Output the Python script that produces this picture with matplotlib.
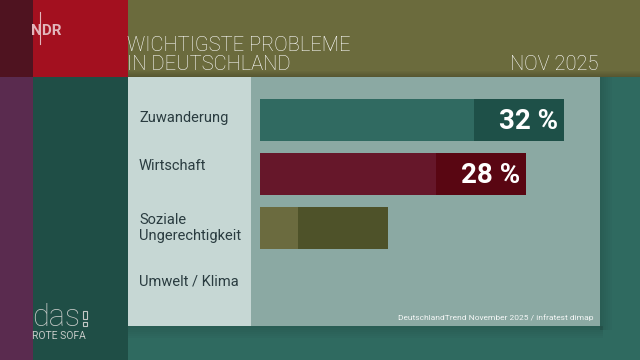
"""
NDR "Das Rote Sofa" graphic: most important problems in Germany (Nov 2025).
"""
import matplotlib
matplotlib.use("Agg")
import matplotlib.pyplot as plt
from matplotlib.patches import Rectangle
from matplotlib.transforms import blended_transform_factory

plt.rcParams["font.family"] = ["Roboto", "DejaVu Sans"]

TITLE = "WICHTIGSTE PROBLEME\nIN DEUTSCHLAND"
DATE = "NOV 2025"
SOURCE = "DeutschlandTrend November 2025 / infratest dimap"

categories = ["Zuwanderung", "Wirtschaft", "Soziale\nUngerechtigkeit", "Umwelt / Klima"]
values = [32, 28, 13.5, 0]
value_labels = ["32 %", "28 %", "", ""]

bar_colors = ["#306a61", "#66172a", "#6b6b3f", "#6b6b3f"]
tag_colors = ["#1e5048", "#590612", "#4e5229", "#4e5229"]

W, H = 640, 360

fig = plt.figure(figsize=(6.4, 3.6), dpi=100)

# --------------------------------------------------------------------------- #
# Background blocks (pixel coordinates)
# --------------------------------------------------------------------------- #
bg = fig.add_axes([0, 0, 1, 1])
bg.set_xlim(0, W)
bg.set_ylim(H, 0)
bg.axis("off")

blocks = [
    (0, 0, 33, 77, "#4f1320"),
    (33, 0, 95, 77, "#a3101f"),
    (128, 0, 512, 77, "#6b6b3d"),
    (0, 77, 33, 283, "#5a2b4f"),
    (33, 77, 95, 283, "#1f4e46"),
    (128, 77, 512, 283, "#2f6a60"),
    (128, 77, 123, 249, "#c6d7d4"),
    (251, 77, 349, 249, "#8ba9a3"),
]
for x, y, w, h, c in blocks:
    bg.add_patch(Rectangle((x, y), w, h, color=c, lw=0, zorder=0))

# soft shadows under the title band and round the panel
for i in range(6):
    bg.add_patch(Rectangle((128, 77 - 6 + i), 512, 1, color="black",
                           alpha=0.03 * (i + 1), lw=0, zorder=0.5))
    bg.add_patch(Rectangle((600 + i * 2, 77), 2, 253, color="black",
                           alpha=0.12 - 0.02 * i, lw=0, zorder=0.5))
    bg.add_patch(Rectangle((128, 326 + i * 2), 475, 2, color="black",
                           alpha=0.12 - 0.02 * i, lw=0, zorder=0.5))

# titles
bg.text(127, 55, TITLE, color="white", fontsize=14.5, fontweight="light",
        ha="left", va="center", linespacing=1.02)
bg.text(599, 64, DATE, color="white", fontsize=14.5, fontweight="light",
        ha="right", va="center")
bg.text(594, 318, SOURCE, color="white", fontsize=6.0, ha="right",
        va="center", alpha=0.9)

# NDR logo
bg.text(46.5, 31, "NDR", color="#e2b6bb", fontsize=11, fontweight="bold",
        ha="center", va="center")
bg.plot([40, 40], [12, 44], color="#e2b6bb", lw=0.8)

# DAS ROTE SOFA logo
bg.text(32, 318, "das", color="#c4c9c6", fontsize=22, fontweight="light",
        ha="left", va="center")
bg.add_patch(Rectangle((83, 311), 4, 8, fill=False, ec="#c4c9c6", lw=0.8))
bg.add_patch(Rectangle((83, 322), 4, 4, fill=False, ec="#c4c9c6", lw=0.8))
bg.text(32, 336, "ROTE SOFA", color="#c4c9c6", fontsize=7.5, ha="left",
        va="center")

# --------------------------------------------------------------------------- #
# Bars
# --------------------------------------------------------------------------- #
px_per_pct = 9.5
bar_left, bar_right = 260, 600
top, bottom = 77, 326
first_center, spacing = 120, 54

ax = fig.add_axes([bar_left / W, 1 - bottom / H,
                   (bar_right - bar_left) / W, (bottom - top) / H])
ax.set_xlim(0, (bar_right - bar_left) / px_per_pct)
ax.set_ylim((bottom - first_center) / spacing, (top - first_center) / spacing)
ax.axis("off")
ax.patch.set_alpha(0)

tag_w = 90 / px_per_pct
y = list(range(len(categories)))
ax.barh(y, values, height=42 / spacing, color=bar_colors, lw=0)
tag_start = [max(v - tag_w, 0) for v in values]
tag_width = [v - s for v, s in zip(values, tag_start)]
ax.barh(y, tag_width, left=tag_start, height=42 / spacing,
        color=tag_colors, lw=0)

for yi, v, lab in zip(y, values, value_labels):
    if lab:
        ax.text(v - 0.6, yi + 0.02, lab, color="white", fontsize=20,
                fontweight="bold", ha="right", va="center")

trans = blended_transform_factory(bg.transData, ax.transData)
label_offsets = [-0.04, -0.14, 0.0, 0.0]
for yi, cat, off in zip(y, categories, label_offsets):
    ax.text(139, yi + off, cat, transform=trans, color="#2a3c40",
            fontsize=10.5, ha="left", va="center", linespacing=1.15)

fig.savefig("out.png", dpi=100)
